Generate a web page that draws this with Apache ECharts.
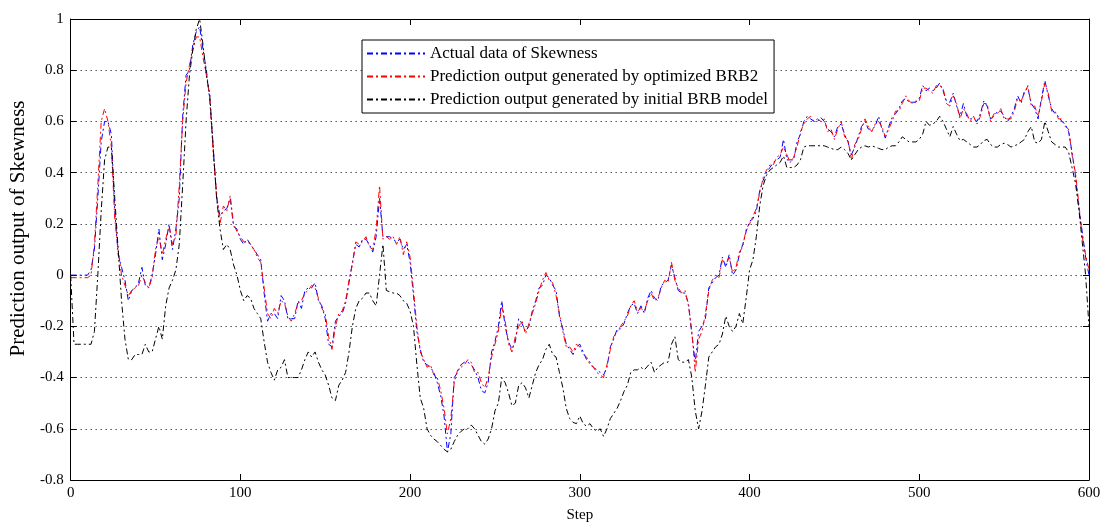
<!DOCTYPE html>
<html>
<head>
<meta charset="utf-8">
<script src="https://cdn.jsdelivr.net/npm/echarts@6/dist/echarts.min.js"></script>
<style>html,body{margin:0;padding:0;background:#fff}#c{width:1106px;height:528px}</style>
</head>
<body>
<div id="c"></div>
<script>
// x positions: one sample every 2 steps from 0 to 600
const steps = Array.from({length: 301}, (_, i) => i * 2);
const xTicks = [0, 100, 200, 300, 400, 500, 600];
const yTicks = ['-0.8', '-0.6', '-0.4', '-0.2', '0', '0.2', '0.4', '0.6', '0.8', '1'];
const seriesNames = ['Actual data of Skewness', 'Prediction output generated by optimized BRB2', 'Prediction output generated by initial BRB model'];

const actual = [
0,0,0,0,0,0,
0.02,0.1,0.3,0.52,0.6, 0.6,0.55,0.25,0.08,0.03, -0.02,-0.1,-0.06,-0.05,-0.03, 0.03,-0.04,-0.05,0.0,0.08,
0.18,0.06,0.12,0.2,0.1, 0.18,0.3,0.62,0.78,0.8, 0.9,0.95,0.97,0.88,0.8, 0.68,0.5,0.3,0.23,0.25,
0.26,0.3,0.19,0.18,0.14, 0.12,0.14,0.12,0.1,0.08, 0.06,-0.07,-0.18,-0.15,-0.15, -0.17,-0.08,-0.1,-0.17,-0.17,
-0.17,-0.1,-0.13,-0.06,-0.05, -0.05,-0.03,-0.1,-0.12,-0.17, -0.27,-0.28,-0.18,-0.16,-0.15, -0.11,-0.03,0.05,0.12,0.11,
0.14,0.14,0.12,0.09,0.15, 0.3,0.15,0.15,0.15,0.14, 0.13,0.14,0.1,0.12,0.05, -0.08,-0.22,-0.29,-0.34,-0.35,
-0.36,-0.38,-0.42,-0.47,-0.55, -0.69,-0.62,-0.4,-0.38,-0.35, -0.34,-0.34,-0.35,-0.37,-0.4, -0.45,-0.46,-0.42,-0.3,-0.26,
-0.2,-0.1,-0.2,-0.26,-0.29, -0.26,-0.17,-0.19,-0.22,-0.2, -0.14,-0.1,-0.05,-0.04,0.0, -0.01,-0.04,-0.06,-0.16,-0.21,
-0.27,-0.29,-0.31,-0.28,-0.27, -0.3,-0.33,-0.34,-0.36,-0.37, -0.38,-0.39,-0.36,-0.28,-0.25, -0.21,-0.21,-0.19,-0.15,-0.12,
-0.11,-0.15,-0.12,-0.15,-0.09, -0.06,-0.09,-0.1,-0.04,-0.03, -0.02,0.04,-0.01,-0.06,-0.07, -0.07,-0.11,-0.23,-0.34,-0.22,
-0.2,-0.17,-0.05,-0.03,-0.01, 0.0,0.07,0.03,0.08,0.0, 0.02,0.08,0.12,0.17,0.21, 0.22,0.25,0.33,0.37,0.4,
0.42,0.44,0.45,0.46,0.53, 0.45,0.45,0.45,0.52,0.55, 0.6,0.62,0.61,0.6,0.6, 0.615,0.6,0.57,0.56,0.54,
0.58,0.59,0.55,0.52,0.47, 0.5,0.54,0.58,0.6,0.57, 0.57,0.58,0.62,0.57,0.535, 0.58,0.615,0.63,0.65,0.68,
0.69,0.675,0.675,0.675,0.69, 0.74,0.72,0.73,0.72,0.73, 0.75,0.72,0.68,0.675,0.71, 0.66,0.62,0.67,0.62,0.61,
0.61,0.6,0.63,0.68,0.66, 0.61,0.62,0.64,0.64,0.62, 0.6,0.62,0.65,0.7,0.67, 0.72,0.73,0.67,0.65,0.61,
0.69,0.76,0.7,0.65,0.63, 0.62,0.6,0.59,0.56,0.48, 0.39,0.26,0.17,0.07,0.0
];

const optimized = [
-0.01,-0.01,-0.01,-0.01,-0.01,-0.01,
0.0,0.12,0.35,0.6,0.65, 0.6,0.5,0.22,0.1,0.0, -0.04,-0.08,-0.06,-0.05,-0.04, 0.0,-0.03,-0.05,-0.01,0.1,
0.15,0.08,0.14,0.19,0.12, 0.15,0.35,0.6,0.75,0.82, 0.88,0.93,0.93,0.85,0.78, 0.7,0.47,0.32,0.2,0.27,
0.25,0.31,0.2,0.17,0.15, 0.13,0.13,0.12,0.1,0.07, 0.05,-0.05,-0.15,-0.17,-0.13, -0.15,-0.1,-0.11,-0.16,-0.18,
-0.15,-0.11,-0.1,-0.07,-0.06, -0.04,-0.05,-0.09,-0.13,-0.15, -0.24,-0.29,-0.2,-0.15,-0.14, -0.1,-0.02,0.04,0.13,0.12,
0.13,0.15,0.11,0.1,0.18, 0.35,0.14,0.15,0.14,0.15, 0.12,0.15,0.08,0.13,0.07, -0.06,-0.2,-0.3,-0.33,-0.36,
-0.35,-0.39,-0.4,-0.45,-0.52, -0.62,-0.56,-0.42,-0.37,-0.36, -0.35,-0.33,-0.34,-0.38,-0.38, -0.42,-0.44,-0.4,-0.32,-0.27,
-0.22,-0.12,-0.18,-0.27,-0.3, -0.24,-0.2,-0.18,-0.23,-0.19, -0.15,-0.11,-0.06,-0.02,0.01, -0.02,-0.03,-0.08,-0.15,-0.22,
-0.28,-0.28,-0.3,-0.27,-0.28, -0.31,-0.32,-0.35,-0.36,-0.38, -0.39,-0.4,-0.35,-0.29,-0.24, -0.22,-0.2,-0.18,-0.16,-0.12,
-0.1,-0.14,-0.13,-0.14,-0.1, -0.07,-0.1,-0.09,-0.05,-0.02, -0.03,0.05,-0.02,-0.05,-0.07, -0.06,-0.12,-0.22,-0.38,-0.25,
-0.22,-0.15,-0.06,-0.02,0.0, -0.01,0.06,0.04,0.07,0.01, 0.03,0.09,0.11,0.18,0.2, 0.23,0.26,0.32,0.38,0.41,
0.43,0.43,0.46,0.47,0.5, 0.47,0.44,0.46,0.5,0.56, 0.59,0.61,0.62,0.6,0.61, 0.6,0.61,0.56,0.57,0.53,
0.57,0.6,0.54,0.53,0.45, 0.51,0.53,0.57,0.61,0.58, 0.56,0.59,0.6,0.58,0.54, 0.57,0.6,0.64,0.64,0.67,
0.7,0.68,0.67,0.68,0.68, 0.73,0.73,0.72,0.71,0.74, 0.74,0.73,0.67,0.66,0.7, 0.67,0.61,0.65,0.63,0.6,
0.62,0.59,0.62,0.67,0.67, 0.6,0.63,0.63,0.65,0.61, 0.61,0.61,0.64,0.69,0.68, 0.71,0.74,0.66,0.66,0.62,
0.68,0.75,0.71,0.64,0.64, 0.61,0.61,0.58,0.57,0.47, 0.4,0.28,0.15,0.08,0.02
];

const initial = [
0,-0.27,-0.27,-0.27,-0.27,-0.27,
-0.27,-0.22,0.0,0.25,0.45, 0.5,0.5,0.3,0.1,-0.1, -0.25,-0.33,-0.33,-0.31,-0.31, -0.31,-0.27,-0.3,-0.3,-0.25,
-0.2,-0.25,-0.12,-0.05,-0.02, 0.02,0.12,0.35,0.6,0.78, 0.88,0.96,1.0,0.9,0.78, 0.7,0.5,0.3,0.18,0.1,
0.12,0.1,0.04,0.0,-0.06, -0.1,-0.08,-0.09,-0.13,-0.15, -0.17,-0.26,-0.34,-0.38,-0.41, -0.37,-0.36,-0.33,-0.4,-0.4,
-0.4,-0.4,-0.37,-0.33,-0.3, -0.32,-0.3,-0.34,-0.37,-0.39, -0.43,-0.48,-0.49,-0.43,-0.41, -0.38,-0.3,-0.2,-0.13,-0.1,
-0.09,-0.07,-0.07,-0.1,-0.12, 0.0,0.12,-0.06,-0.065,-0.07, -0.07,-0.08,-0.1,-0.11,-0.14, -0.2,-0.35,-0.48,-0.52,-0.6,
-0.625,-0.64,-0.65,-0.665,-0.68, -0.69,-0.68,-0.65,-0.625,-0.61, -0.6,-0.6,-0.585,-0.6,-0.625, -0.65,-0.66,-0.64,-0.6,-0.53,
-0.5,-0.4,-0.42,-0.46,-0.51, -0.5,-0.43,-0.42,-0.44,-0.48, -0.43,-0.38,-0.35,-0.33,-0.29, -0.27,-0.31,-0.32,-0.38,-0.44,
-0.52,-0.56,-0.575,-0.58,-0.55, -0.58,-0.59,-0.58,-0.6,-0.61, -0.6,-0.63,-0.6,-0.56,-0.54, -0.52,-0.49,-0.455,-0.43,-0.38,
-0.37,-0.37,-0.36,-0.37,-0.355, -0.34,-0.38,-0.36,-0.35,-0.34, -0.34,-0.27,-0.24,-0.33,-0.34, -0.34,-0.33,-0.4,-0.53,-0.6,
-0.53,-0.43,-0.32,-0.3,-0.28, -0.27,-0.23,-0.16,-0.2,-0.22, -0.2,-0.15,-0.19,-0.09,0.02, 0.06,0.15,0.27,0.35,0.39,
0.41,0.42,0.43,0.44,0.465, 0.42,0.42,0.42,0.43,0.45, 0.5,0.505,0.505,0.505,0.505, 0.505,0.505,0.5,0.495,0.49,
0.49,0.5,0.49,0.475,0.45, 0.47,0.49,0.5,0.505,0.5, 0.505,0.5,0.495,0.49,0.49, 0.5,0.505,0.505,0.52,0.54,
0.53,0.52,0.52,0.52,0.53, 0.55,0.6,0.585,0.59,0.6, 0.62,0.6,0.57,0.54,0.58, 0.55,0.525,0.53,0.52,0.51,
0.5,0.5,0.51,0.525,0.53, 0.51,0.5,0.5,0.51,0.515, 0.51,0.5,0.505,0.51,0.52, 0.53,0.56,0.58,0.52,0.515,
0.53,0.6,0.56,0.52,0.51, 0.5,0.5,0.5,0.48,0.42, 0.36,0.26,0.13,0.0,-0.2
];

const FONT = 'Liberation Serif';
const pair = arr => steps.map((s, i) => [s, arr[i]]);
const dashDot = [6, 3, 2, 3];

const chart = echarts.init(document.getElementById('c'), null, {renderer: 'canvas'});
const baseX = {type: 'value', min: xTicks[0], max: xTicks[xTicks.length - 1], interval: 100};
const baseY = {type: 'value', min: Number(yTicks[0]), max: Number(yTicks[yTicks.length - 1]), interval: 0.2};
const fmtY = v => { const s = (+v.toFixed(1)).toString(); return yTicks.includes(s) ? s : ''; };
const axLine = {show: true, onZero: false, lineStyle: {color: '#000', width: 1}};
const axTick = {show: true, inside: true, length: 6, lineStyle: {color: '#000'}};
chart.setOption({
  animation: false,
  backgroundColor: '#fff',
  textStyle: {fontFamily: FONT, color: '#000'},
  grid: {left: 69, right: 17, top: 19, bottom: 45},
  legend: {
    orient: 'vertical', left: 362, top: 40,
    backgroundColor: '#fff', borderColor: '#000', borderWidth: 1,
    padding: [5, 6, 5, 4], itemGap: 6, itemWidth: 58, itemHeight: 14,
    itemStyle: {opacity: 0},
    textStyle: {fontFamily: FONT, fontSize: 17, color: '#000'},
    data: seriesNames
  },
  xAxis: [
    Object.assign({}, baseX, {
      position: 'bottom', name: 'Step', nameLocation: 'middle', nameGap: 28,
      nameTextStyle: {fontFamily: FONT, fontSize: 15, color: '#000'},
      axisLine: axLine, axisTick: axTick,
      axisLabel: {fontFamily: FONT, fontSize: 15, color: '#000', margin: 6},
      splitLine: {show: false}
    }),
    Object.assign({}, baseX, {
      position: 'top', axisLine: axLine, axisTick: axTick,
      axisLabel: {show: false}, splitLine: {show: false}
    })
  ],
  yAxis: [
    Object.assign({}, baseY, {
      position: 'left', name: 'Prediction output of Skewness', nameLocation: 'middle', nameGap: 40,
      nameTextStyle: {fontFamily: FONT, fontSize: 21, color: '#000', padding: [0, 0, 0, 42]},
      axisLine: axLine, axisTick: axTick,
      axisLabel: {fontFamily: FONT, fontSize: 15, color: '#000', margin: 7, formatter: fmtY},
      splitLine: {show: true, lineStyle: {color: '#000', type: [1, 4], width: 1}}
    }),
    Object.assign({}, baseY, {
      position: 'right', axisLine: axLine, axisTick: axTick,
      axisLabel: {show: false}, splitLine: {show: false}
    })
  ],
  series: [
    {name: seriesNames[0], type: 'line', data: pair(actual), symbol: 'none', color: '#0000ff',
     lineStyle: {color: '#0000ff', width: 1, type: dashDot}},
    {name: seriesNames[1], type: 'line', data: pair(optimized), symbol: 'none', color: '#ff0000',
     lineStyle: {color: '#ff0000', width: 1, type: dashDot}},
    {name: seriesNames[2], type: 'line', data: pair(initial), symbol: 'none', color: '#000000',
     lineStyle: {color: '#000000', width: 1, type: dashDot}}
  ]
});
</script>
</body>
</html>
